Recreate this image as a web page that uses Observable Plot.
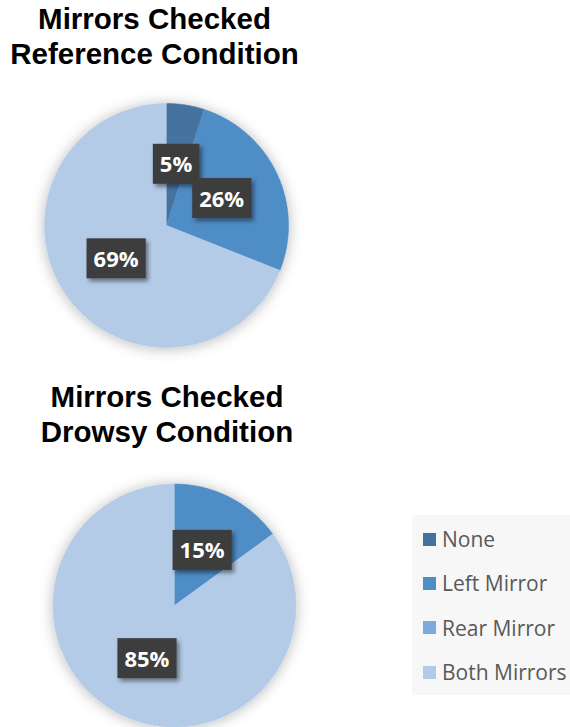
<!DOCTYPE html>
<html><head><meta charset="utf-8">
<script src="https://cdn.jsdelivr.net/npm/d3@7"></script>
<script src="https://cdn.jsdelivr.net/npm/@observablehq/plot@0.6"></script>
<style>
html,body{margin:0;padding:0;background:#fff;}
#page{position:relative;width:570px;height:727px;overflow:hidden;background:#fff;}
.title{position:absolute;width:400px;font-family:"Liberation Sans",Arial,sans-serif;font-weight:bold;font-size:29.5px;line-height:35px;color:#000;text-align:center;white-space:nowrap;}
.pie{position:absolute;}
#legend{position:absolute;left:412px;top:515px;width:170px;height:180px;background:#f7f7f7;box-sizing:border-box;padding-top:2px;padding-left:11px;}
#legend .lg-swatch{height:44.33px;margin:0;padding:0;display:flex;align-items:center;font-family:"Open Sans",sans-serif;font-size:21px;color:#595959;}
#legend .lg-swatch svg{margin-right:6px;}
</style></head><body><div id="page"></div>
<script>
const categories = ["None", "Left Mirror", "Rear Mirror", "Both Mirrors"];
const colors = ["#44729f", "#4f8dc6", "#7eaadb", "#b4cbe7"];
const referenceValues = [5, 26, 0, 69];
const drowsyValues = [0, 15, 0, 85];
const titleReference = ["Mirrors Checked", "Reference Condition"];
const titleDrowsy = ["Mirrors Checked", "Drowsy Condition"];

const page = document.getElementById("page");

function addTitle(lines, cx, top) {
  const d = document.createElement("div");
  d.className = "title";
  d.style.left = (cx - 200) + "px";
  d.style.top = top + "px";
  d.innerHTML = lines.join("<br>");
  page.appendChild(d);
}

let filterId = 0;
function piePlot(values, cx, cy, R) {
  const W = 300, H = 300;
  const arcs = d3.pie().sort(null).value(d => d)(values);
  const pts = [];
  const labels = [];
  arcs.forEach((a, i) => {
    if (values[i] <= 0) return;
    const n = Math.max(2, Math.ceil((a.endAngle - a.startAngle) / (Math.PI / 360)));
    pts.push({cat: categories[i], x: 0, y: 0});
    for (let k = 0; k <= n; k++) {
      const t = a.startAngle + (a.endAngle - a.startAngle) * k / n;
      pts.push({cat: categories[i], x: Math.sin(t), y: Math.cos(t)});
    }
    const mid = (a.startAngle + a.endAngle) / 2;
    labels.push({x: 0.5 * Math.sin(mid), y: 0.5 * Math.cos(mid), text: values[i] + "%"});
  });
  const plot = Plot.plot({
    width: W, height: H, margin: 0,
    x: {domain: [-W / 2 / R, W / 2 / R], axis: null},
    y: {domain: [-H / 2 / R, H / 2 / R], axis: null},
    color: {domain: categories, range: colors},
    style: {overflow: "visible", background: "transparent"},
    marks: [
      Plot.line(pts, {x: "x", y: "y", z: "cat", fill: "cat", stroke: "cat", strokeWidth: 0.6, curve: "linear"}),
      Plot.text(labels, {x: "x", y: "y", text: "text", fill: "white", fontSize: 22, fontWeight: "bold", fontFamily: "Open Sans", textAnchor: "middle", lineAnchor: "middle"})
    ]
  });
  const wrap = document.createElement("div");
  wrap.className = "pie";
  wrap.style.left = (cx - W / 2) + "px";
  wrap.style.top = (cy - H / 2) + "px";
  wrap.appendChild(plot);
  page.appendChild(wrap);

  const ns = "http://www.w3.org/2000/svg";
  const id = ++filterId;
  const defs = document.createElementNS(ns, "defs");
  defs.innerHTML = `<filter id="glow${id}" x="-30%" y="-30%" width="160%" height="160%"><feDropShadow dx="0" dy="1" stdDeviation="7" flood-color="#000" flood-opacity="0.28"/></filter>
  <filter id="bshadow${id}" x="-30%" y="-30%" width="170%" height="170%"><feDropShadow dx="2.5" dy="3" stdDeviation="2" flood-color="#000" flood-opacity="0.45"/></filter>`;
  plot.insertBefore(defs, plot.firstChild);
  const lineG = plot.querySelector('g[aria-label="line"]');
  if (lineG) lineG.setAttribute("filter", `url(#glow${id})`);
  const textG = plot.querySelector('g[aria-label="text"]');
  if (textG) {
    textG.querySelectorAll("text").forEach(t => {
      const b = t.getBBox();
      const r = document.createElementNS(ns, "rect");
      const cyb = b.y + b.height / 2 + 0.5;
      r.setAttribute("x", b.x - 7);
      r.setAttribute("width", b.width + 14);
      r.setAttribute("y", cyb - 20);
      r.setAttribute("height", 40);
      r.setAttribute("fill", "#3d3d3d");
      r.setAttribute("stroke", "none");
      r.setAttribute("filter", `url(#bshadow${id})`);
      if (t.getAttribute("transform")) r.setAttribute("transform", t.getAttribute("transform"));
      textG.insertBefore(r, t);
    });
  }
}

addTitle(titleReference, 154.5, 0.5);
piePlot(referenceValues, 165.5, 225, 122);
addTitle(titleDrowsy, 167, 379);
piePlot(drowsyValues, 174, 604.5, 121.5);

const legendBox = document.createElement("div");
legendBox.id = "legend";
legendBox.appendChild(Plot.legend({
  color: {domain: categories, range: colors},
  legend: "swatches",
  columns: 1,
  swatchWidth: 13,
  swatchHeight: 13,
  className: "lg"
}));
page.appendChild(legendBox);
</script>
</body></html>
